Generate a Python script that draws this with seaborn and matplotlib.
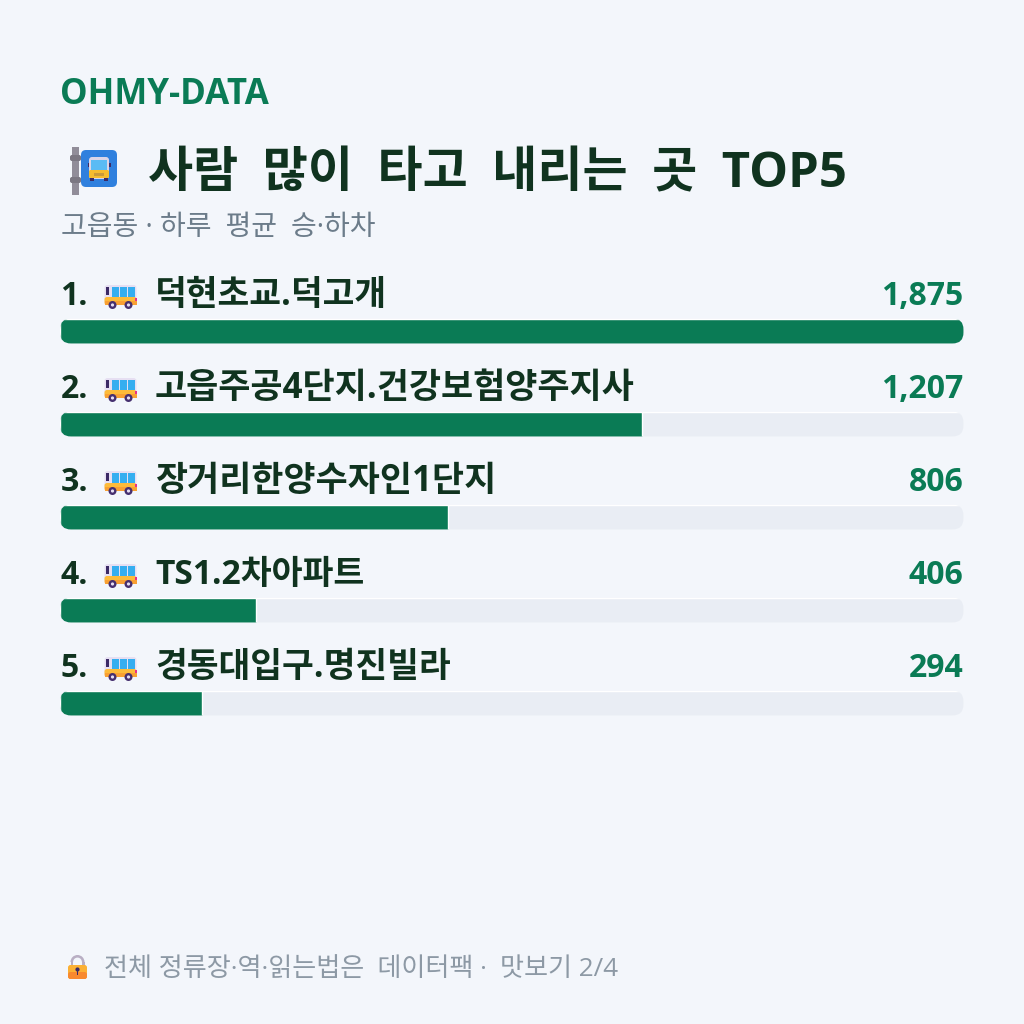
import matplotlib
matplotlib.use("Agg")
import matplotlib.pyplot as plt
from matplotlib.patches import FancyBboxPatch, Rectangle, Circle, Wedge
from matplotlib.transforms import IdentityTransform
import pandas as pd
import seaborn as sns

brand = "OHMY-DATA"
title = "사람\u2002많이\u2002타고\u2002내리는\u2002곳\u2002TOP5"
subtitle = "고읍동 · 하루\u2002평균\u2002승·하차"
footer = "전체 정류장·역·읽는법은\u2002데이터팩 ·\u2002맛보기 2/4"
ranks = ["1.", "2.", "3.", "4.", "5."]
stops = ["덕현초교.덕고개", "고읍주공4단지.건강보험양주지사", "장거리한양수자인1단지", "TS1.2차아파트", "경동대입구.명진빌라"]
riders = [1875, 1207, 806, 406, 294]
stop_sizes = [24.9, 25.2, 25.1, 24.2, 24.9]

BG = "#F3F6FB"
GREEN = "#0A7B55"
INK = "#10331F"
TRACK = "#E9EDF4"

sns.set_theme(style="white")
plt.rcParams["font.family"] = ["Open Sans", "Noto Sans CJK KR", "DejaVu Sans"]

fig = plt.figure(figsize=(10.24, 10.24), dpi=100, facecolor=BG)

# overlay in pixel units for text and icons
over = fig.add_axes([0, 0, 1, 1], zorder=3)
over.set_xlim(0, 1024)
over.set_ylim(1024, 0)
over.axis("off")

# bar rows span the content width, with rows 93 px apart
ax = fig.add_axes([60 / 1024, 1 - 749.5 / 1024, 903.5 / 1024, 465 / 1024], zorder=1)
df = pd.DataFrame({"stop": stops, "riders": riders, "full": [max(riders)] * len(riders)})
sns.barplot(df, x="full", y="stop", orient="h", color=TRACK, saturation=1, width=25 / 93, ax=ax)
sns.barplot(df, x="riders", y="stop", orient="h", color=GREEN, saturation=1, width=25 / 93, ax=ax)
ax.set_xlim(0, max(riders))
ax.axis("off")
ax.patch.set_alpha(0)

# every bar is clipped by its row's rounded track
fig.canvas.draw()
n = len(riders)
tracks = ax.patches[:n]
fills = ax.patches[n:]
for tr, fl in zip(tracks, fills):
    e = tr.get_window_extent()
    for bar in (tr, fl):
        clip = FancyBboxPatch((e.x0 + 12, e.y0 + 12), e.width - 24, e.height - 24,
                              boxstyle="round,pad=12,rounding_size=11", transform=IdentityTransform())
        bar.set_clip_path(clip)


def rbox(x, y, w, h, r, color):
    over.add_patch(FancyBboxPatch((x, y), w, h, boxstyle=f"round,pad=0,rounding_size={r}", fc=color, ec="none"))


def rect(x, y, w, h, color):
    over.add_patch(Rectangle((x, y), w, h, fc=color, ec="none"))


def bus(cx, cy):
    """Small side-view bus icon."""
    rbox(cx - 16, cy - 10, 32, 20, 3, "#E6DFF2")
    rbox(cx - 16, cy + 2, 32, 8, 2.5, "#FDBB3A")
    rect(cx - 16, cy + 6, 32, 4, "#F9A033")
    rect(cx - 15, cy - 8, 3, 8, "#3B2A66")
    for dx in (-9, -1, 7):
        rect(cx + dx, cy - 8, 7, 10, "#35AEF0")
    rect(cx + 14.5, cy + 3, 1.5, 3, "#E8308A")
    for dx in (-8, 8):
        over.add_patch(Circle((cx + dx, cy + 10), 4, fc="#46306F", ec="none"))
        over.add_patch(Circle((cx + dx, cy + 10), 1.6, fc="#E6DFF2", ec="none"))


def stop_sign():
    """Bus stop post with a blue panel."""
    rect(71.5, 147, 7.5, 48, "#918D99")
    rbox(70, 155, 11, 6, 2, "#7B7782")
    rbox(70, 177, 11, 6, 2, "#7B7782")
    rbox(81, 150, 36, 37, 5, "#2F80DE")
    rbox(89, 157, 20, 22, 3, "#DAD5E8")
    rect(91, 160, 16, 10, "#5ABBF4")
    rbox(89, 170, 20, 8, 1.5, "#F5BC2F")
    rect(94, 173, 10, 2.5, "#C99A3A")
    rect(90, 178, 4, 3, "#3B2A66")
    rect(104, 178, 4, 3, "#3B2A66")
    rect(87.5, 163, 1.5, 4, "#3B2A66")
    rect(109, 163, 1.5, 4, "#3B2A66")


def lock():
    """Padlock in front of the footer."""
    over.add_patch(Wedge((77.5, 962), 7, 180, 360, width=2.6, fc="#B9AFC4", ec="none"))
    rect(70.5, 962, 2.6, 4, "#B9AFC4")
    rect(81.9, 962, 2.6, 4, "#B9AFC4")
    rbox(68, 965, 19, 14, 2.5, "#FBB034")
    rbox(68, 972, 19, 7, 2.5, "#F8892F")
    over.add_patch(Circle((77.5, 969.5), 2.1, fc="#3B2A66", ec="none"))
    rect(76.6, 970, 1.8, 4.5, "#3B2A66")


over.text(60, 104, brand, fontsize=25.1, fontweight="bold", color=GREEN, va="baseline")
stop_sign()
over.text(148, 187.5, title, fontsize=35.3, fontweight="bold", color=INK, va="baseline")
over.text(61, 235, subtitle, fontsize=20.2, color="#6C7C8A", va="baseline")

for i, (rank, stop, val, size) in enumerate(zip(ranks, stops, riders, stop_sizes)):
    base = 305 + 93 * i
    over.text(60.5, base, rank, fontsize=23, fontweight="bold", color=INK, va="baseline")
    bus(120.5, base - 10)
    over.text(155, base, stop, fontsize=size, fontweight="bold", color=INK, va="baseline")
    over.text(963.5, base, f"{val:,}", fontsize=23, fontweight="bold", color=GREEN, ha="right", va="baseline")

lock()
over.text(104, 976, footer, fontsize=18.8, color="#8D99A5", va="baseline")

fig.savefig("out.png", dpi=100, facecolor=BG)
